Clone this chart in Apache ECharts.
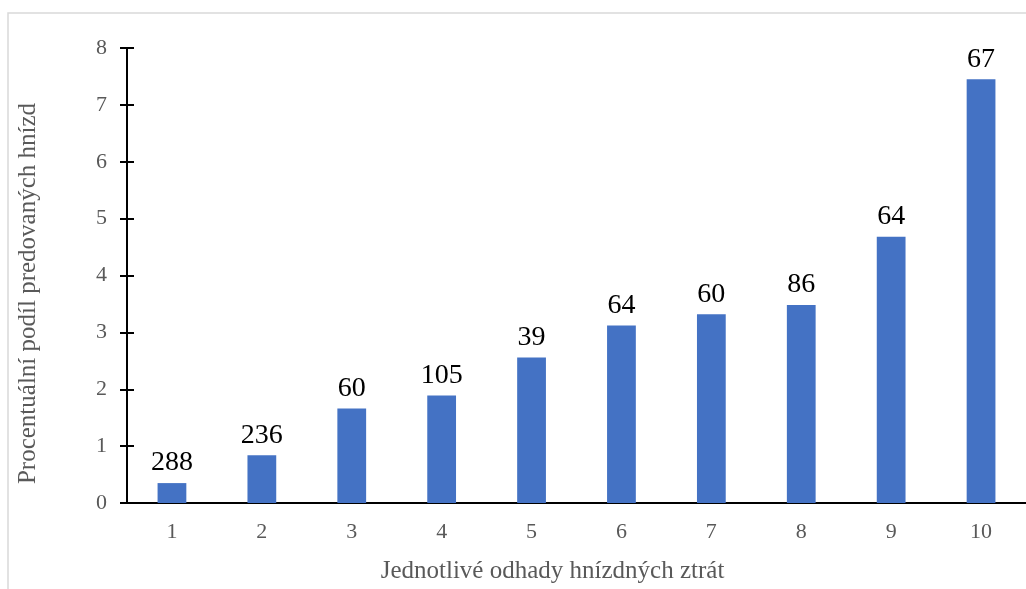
<!DOCTYPE html>
<html>
<head>
<meta charset="utf-8">
<script src="https://cdn.jsdelivr.net/npm/echarts@6/dist/echarts.min.js"></script>
<style>
  html, body { margin: 0; padding: 0; background: #fff; }
  #chart { width: 1026px; height: 589px; }
</style>
</head>
<body>
<div id="chart"></div>
<script>
const categories = ['1', '2', '3', '4', '5', '6', '7', '8', '9', '10'];
// bar heights (percent of predated nests)
const predatedShare = [0.35, 0.84, 1.66, 1.89, 2.56, 3.12, 3.32, 3.48, 4.68, 7.45];
// numbers printed above the bars (nest counts)
const nestCounts = [288, 236, 60, 105, 39, 64, 60, 86, 64, 67];
const yMin = 0, yMax = 8, yStep = 1;

const serif = '"Liberation Serif", "DejaVu Serif", serif';
const chart = echarts.init(document.getElementById('chart'));

const yBase = {
  type: 'value',
  min: yMin,
  max: yMax,
  interval: yStep,
  splitLine: { show: false },
  axisLine: { show: true, lineStyle: { color: '#000', width: 2 } },
  axisTick: { show: true, length: 7, lineStyle: { color: '#000', width: 2 } },
};

const option = {
  animation: false,
  backgroundColor: '#fff',
  grid: { left: 127, right: -8, top: 48, bottom: 85 },
  graphic: [{
    type: 'rect',
    shape: { x: 8, y: 13, width: 1040, height: 600 },
    style: { fill: 'none', stroke: '#d9d9d9', lineWidth: 1.5 },
    silent: true,
  }],
  xAxis: {
    type: 'category',
    data: categories,
    name: 'Jednotlivé odhady hnízdných ztrát',
    nameLocation: 'middle',
    nameGap: 56,
    nameTextStyle: { fontFamily: serif, fontSize: 25, color: '#595959', padding: [0, 48, 0, 0] },
    axisLine: { lineStyle: { color: '#000', width: 2 } },
    axisTick: { show: false },
    axisLabel: { fontFamily: serif, fontSize: 22, color: '#595959', margin: 18 },
  },
  yAxis: [
    Object.assign({}, yBase, {
      name: 'Procentuální podíl predovaných hnízd',
      nameLocation: 'middle',
      nameGap: 86,
      nameTextStyle: { fontFamily: serif, fontSize: 25, color: '#595959', padding: [0, 36, 0, 0] },
      axisLabel: { fontFamily: serif, fontSize: 22, color: '#595959', margin: 20 },
    }),
    Object.assign({}, yBase, {
      position: 'left',
      axisLine: { show: false },
      axisTick: { show: true, inside: true, length: 7, lineStyle: { color: '#000', width: 2 } },
      axisLabel: { show: false },
    }),
  ],
  series: [{
    type: 'bar',
    yAxisIndex: 0,
    data: predatedShare,
    barWidth: '32%',
    itemStyle: { color: '#4472C4' },
    label: {
      show: true,
      position: 'top',
      distance: 6,
      fontFamily: serif,
      fontSize: 28,
      color: '#000',
      formatter: (p) => nestCounts[p.dataIndex],
    },
  }],
};

chart.setOption(option);
</script>
</body>
</html>
